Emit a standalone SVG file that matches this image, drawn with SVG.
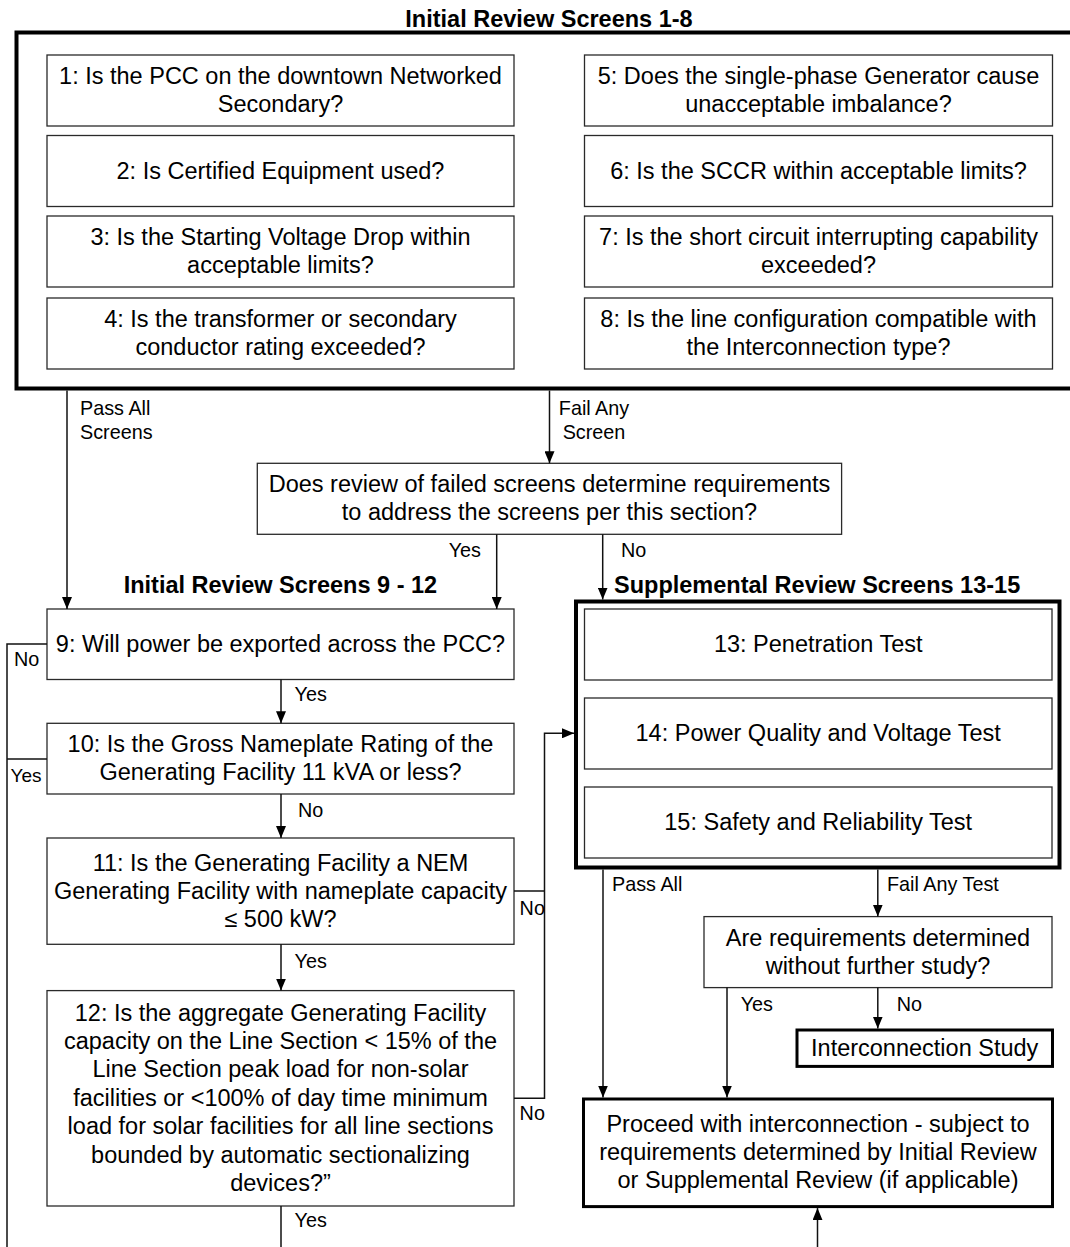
<svg xmlns="http://www.w3.org/2000/svg" width="1070" height="1247" viewBox="0 0 1070 1247">
<style>
text{font-family:"Liberation Sans",Arial,sans-serif;fill:#000}
.t{font-size:23.5px;text-anchor:middle}
.h{font-size:23.5px;font-weight:bold}
.l{font-size:19.8px}
.box{fill:#fff;stroke:#2a2a2a;stroke-width:1.3}
.thick{fill:none;stroke:#000;stroke-width:4}
.thick3{fill:#fff;stroke:#000;stroke-width:3}
.c{fill:none;stroke:#111;stroke-width:1.5}
</style>
<defs>
<marker id="ah" viewBox="0 0 12 10" refX="12" refY="5" markerWidth="12" markerHeight="10" markerUnits="userSpaceOnUse" orient="auto">
<path d="M0,0 L12,5 L0,10 z" fill="#000"/>
</marker>
</defs>
<rect width="1070" height="1247" fill="#fff"/>

<g id="group-initial-1-8">
<text class="h" x="549" y="27" text-anchor="middle">Initial Review Screens 1-8</text>
<rect class="thick" x="16.5" y="32.5" width="1066.5" height="356"/>
</g>
<g id="s1"><rect class="box" x="47" y="55" width="467" height="71"/><text class="t" x="280.5" y="84">1: Is the PCC on the downtown Networked</text><text class="t" x="280.5" y="112">Secondary?</text></g>
<g id="s2"><rect class="box" x="47" y="135.5" width="467" height="71"/><text class="t" x="280.5" y="178.5">2: Is Certified Equipment used?</text></g>
<g id="s3"><rect class="box" x="47" y="216" width="467" height="71"/><text class="t" x="280.5" y="245">3: Is the Starting Voltage Drop within</text><text class="t" x="280.5" y="273">acceptable limits?</text></g>
<g id="s4"><rect class="box" x="47" y="298" width="467" height="71"/><text class="t" x="280.5" y="327">4: Is the transformer or secondary</text><text class="t" x="280.5" y="355">conductor rating exceeded?</text></g>
<g id="s5"><rect class="box" x="584.5" y="55" width="468" height="71"/><text class="t" x="818.5" y="84">5: Does the single-phase Generator cause</text><text class="t" x="818.5" y="112">unacceptable imbalance?</text></g>
<g id="s6"><rect class="box" x="584.5" y="135.5" width="468" height="71"/><text class="t" x="818.5" y="178.5">6: Is the SCCR within acceptable limits?</text></g>
<g id="s7"><rect class="box" x="584.5" y="216" width="468" height="71"/><text class="t" x="818.5" y="245">7: Is the short circuit interrupting capability</text><text class="t" x="818.5" y="273">exceeded?</text></g>
<g id="s8"><rect class="box" x="584.5" y="298" width="468" height="71"/><text class="t" x="818.5" y="327">8: Is the line configuration compatible with</text><text class="t" x="818.5" y="355">the Interconnection type?</text></g>

<g id="review-failed"><rect class="box" x="257.3" y="463.3" width="584.3" height="71"/><text class="t" x="549.5" y="492.3">Does review of failed screens determine requirements</text><text class="t" x="549.5" y="520.3">to address the screens per this section?</text></g>

<text class="h" x="280.4" y="593.3" text-anchor="middle">Initial Review Screens 9 - 12</text>
<g id="s9"><rect class="box" x="47" y="609" width="467" height="70.5"/><text class="t" x="280.5" y="651.7">9: Will power be exported across the PCC?</text></g>
<g id="s10"><rect class="box" x="47" y="723.3" width="467" height="70.7"/><text class="t" x="280.5" y="752.2">10: Is the Gross Nameplate Rating of the</text><text class="t" x="280.5" y="780.2">Generating Facility 11 kVA or less?</text></g>
<g id="s11"><rect class="box" x="47" y="838" width="467" height="106.3"/><text class="t" x="280.5" y="870.6">11: Is the Generating Facility a NEM</text><text class="t" x="280.5" y="898.6">Generating Facility with nameplate capacity</text><text class="t" x="280.5" y="926.6">≤ 500 kW?</text></g>
<g id="s12"><rect class="box" x="47" y="990.6" width="467" height="215.4"/>
<text class="t" x="280.5" y="1020.5">12: Is the aggregate Generating Facility</text>
<text class="t" x="280.5" y="1048.9">capacity on the Line Section &lt; 15% of the</text>
<text class="t" x="280.5" y="1077.3">Line Section peak load for non-solar</text>
<text class="t" x="280.5" y="1105.7">facilities or &lt;100% of day time minimum</text>
<text class="t" x="280.5" y="1134.1">load for solar facilities for all line sections</text>
<text class="t" x="280.5" y="1162.5">bounded by automatic sectionalizing</text>
<text class="t" x="280.5" y="1190.9">devices?”</text></g>

<g id="group-supplemental">
<text class="h" x="614" y="593.3">Supplemental Review Screens 13-15</text>
<rect class="thick" x="576" y="601.5" width="483.5" height="266"/>
</g>
<g id="s13"><rect class="box" x="584.5" y="609" width="467.5" height="71"/><text class="t" x="818.2" y="652">13: Penetration Test</text></g>
<g id="s14"><rect class="box" x="584.5" y="698" width="467.5" height="71"/><text class="t" x="818.2" y="741">14: Power Quality and Voltage Test</text></g>
<g id="s15"><rect class="box" x="584.5" y="787" width="467.5" height="71"/><text class="t" x="818.2" y="830">15: Safety and Reliability Test</text></g>

<g id="req-determined"><rect class="box" x="704" y="916.6" width="348" height="71"/><text class="t" x="878" y="945.6">Are requirements determined</text><text class="t" x="878" y="973.6">without further study?</text></g>
<g id="interconnection-study"><rect class="thick3" x="797" y="1030" width="255.5" height="36.4"/><text class="t" x="924.7" y="1056">Interconnection Study</text></g>
<g id="proceed"><rect class="thick3" x="583.5" y="1099" width="469" height="107.6"/><text class="t" x="818" y="1132.3">Proceed with interconnection - subject to</text><text class="t" x="818" y="1160.3">requirements determined by Initial Review</text><text class="t" x="818" y="1188.3">or Supplemental Review (if applicable)</text></g>

<g id="connectors">
<path class="c" d="M67,390.5 V609" marker-end="url(#ah)"/>
<path class="c" d="M549.5,390.5 V463.3" marker-end="url(#ah)"/>
<path class="c" d="M496.7,534.3 V609" marker-end="url(#ah)"/>
<path class="c" d="M602.7,534.3 V599.5" marker-end="url(#ah)"/>
<path class="c" d="M281,679.5 V723.3" marker-end="url(#ah)"/>
<path class="c" d="M281,794 V838" marker-end="url(#ah)"/>
<path class="c" d="M281,944.3 V990.6" marker-end="url(#ah)"/>
<path class="c" d="M281,1206 V1247"/>
<path class="c" d="M47,644 H7 V1247"/>
<path class="c" d="M47,759 H7"/>
<path class="c" d="M514,891 H544.5"/>
<path class="c" d="M514,1098.3 H544.5 V733.3 H574" marker-end="url(#ah)"/>
<path class="c" d="M603,869.5 V1097.5" marker-end="url(#ah)"/>
<path class="c" d="M877.8,869.5 V916.6" marker-end="url(#ah)"/>
<path class="c" d="M727,987.6 V1097.5" marker-end="url(#ah)"/>
<path class="c" d="M877.8,987.6 V1028.5" marker-end="url(#ah)"/>
<path class="c" d="M817.5,1247 V1208.1" marker-end="url(#ah)"/>
<text class="l" x="80" y="415">Pass All</text>
<text class="l" x="80" y="439">Screens</text>
<text class="l" x="594" y="415" text-anchor="middle">Fail Any</text>
<text class="l" x="594" y="439" text-anchor="middle">Screen</text>
<text class="l" x="481" y="556.7" text-anchor="end">Yes</text>
<text class="l" x="621" y="556.7">No</text>
<text class="l" x="14" y="666">No</text>
<text class="l" x="10.5" y="781.7" style="font-size:19px">Yes</text>
<text class="l" x="294.6" y="701">Yes</text>
<text class="l" x="298" y="817">No</text>
<text class="l" x="294.6" y="967.8">Yes</text>
<text class="l" x="294.6" y="1227">Yes</text>
<text class="l" x="519.6" y="914.5">No</text>
<text class="l" x="519.6" y="1120.4">No</text>
<text class="l" x="612" y="890.8">Pass All</text>
<text class="l" x="887" y="891">Fail Any Test</text>
<text class="l" x="740.7" y="1010.5">Yes</text>
<text class="l" x="896.7" y="1010.5">No</text>
</g>
</svg>
